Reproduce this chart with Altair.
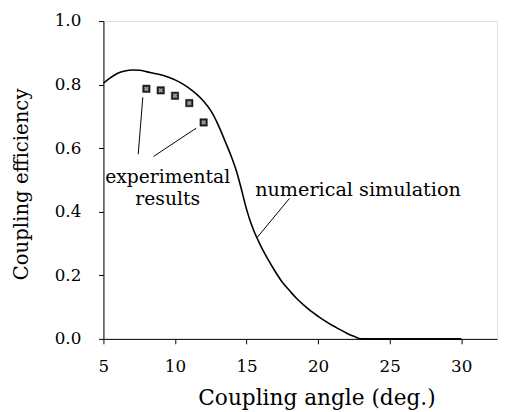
import altair as alt
import pandas as pd

# numerical simulation curve
sim_x = [5.0, 5.5, 6.0, 6.5, 7.0, 7.5, 8.0, 8.5, 9.0, 9.5, 10.0, 10.5, 11.0, 11.5,
         12.0, 12.5, 13.0, 13.5, 14.0, 14.3, 14.6, 14.9, 15.2, 15.5, 16.0, 16.5,
         17.0, 17.5, 18.0, 18.5, 19.0, 19.5, 20.0, 20.5, 21.0, 21.5, 22.0, 22.5,
         23.0, 30.0]
sim_y = [0.805, 0.822, 0.836, 0.843, 0.846, 0.845, 0.841, 0.836, 0.831, 0.824,
         0.815, 0.803, 0.788, 0.770, 0.748, 0.718, 0.675, 0.622, 0.566, 0.527,
         0.478, 0.424, 0.378, 0.341, 0.292, 0.250, 0.212, 0.178, 0.152, 0.127,
         0.106, 0.087, 0.071, 0.056, 0.042, 0.030, 0.018, 0.008, 0.0, 0.0]

# experimental results
exp_x = [8, 9, 10, 11, 12]
exp_y = [0.787, 0.782, 0.765, 0.742, 0.681]

# leader lines of the annotations
lead_x = [7.43, 8.50, 15.72]
lead_y = [0.581, 0.574, 0.318]
lead_x2 = [7.75, 11.48, 18.0]
lead_y2 = [0.760, 0.663, 0.442]

# annotation texts
note_text = ["experimental", "results", "numerical simulation"]
note_x = [9.49, 9.49, 15.6]
note_y = [0.492, 0.421, 0.449]
note_align = ["center", "center", "left"]

x_ticks = [5, 7.5, 10, 12.5, 15, 17.5, 20, 22.5, 25, 27.5, 30, 32.5]
y_ticks = [0.0, 0.1, 0.2, 0.3, 0.4, 0.5, 0.6, 0.7, 0.8, 0.9, 1.0]

sim = pd.DataFrame({"x": sim_x, "y": sim_y})
exp = pd.DataFrame({"x": exp_x, "y": exp_y})
leads = pd.DataFrame({"x": lead_x, "y": lead_y, "x2": lead_x2, "y2": lead_y2})
notes = pd.DataFrame({"t": note_text, "x": note_x, "y": note_y, "a": note_align})

FONT = "DejaVu Serif"

xscale = alt.Scale(domain=[5, 32.5], nice=False, zero=False)
yscale = alt.Scale(domain=[0, 1], nice=False)

xaxis = alt.Axis(
    title="Coupling angle (deg.)", values=x_ticks,
    labelExpr="datum.value % 5 === 0 ? format(datum.value, 'd') : ''",
    grid=False, domainColor="black", domainWidth=1, tickColor="black",
    tickSize=5, tickWidth=1,
    labelPadding=15, labelFont=FONT, labelFontSize=17, labelColor="black",
    titleFont=FONT, titleFontSize=22, titleFontWeight="normal", titleColor="black",
    titleX=216.5, titleY=67, titleBaseline="alphabetic", titleAlign="center",
    labelFlush=False,
)
yaxis = alt.Axis(
    title="Coupling efficiency", values=y_ticks,
    labelExpr="round(datum.value * 10) % 2 === 0 ? format(datum.value, '.1f') : ''",
    grid=False, domainColor="black", domainWidth=1, tickColor="black",
    tickSize=5, tickWidth=1,
    labelPadding=18, labelFont=FONT, labelFontSize=17, labelColor="black",
    titleFont=FONT, titleFontSize=20, titleFontWeight="normal", titleColor="black",
    titleX=-83, titleY=165.5, titleBaseline="middle", titleAlign="center", titleAngle=270,
    labelFlush=False,
)

line = alt.Chart(sim).mark_line(color="black", strokeWidth=1.6, interpolate="monotone").encode(
    x=alt.X("x:Q", scale=xscale, axis=xaxis),
    y=alt.Y("y:Q", scale=yscale, axis=yaxis),
)

pts = alt.Chart(exp).mark_square(size=56, color="#222222", stroke="black",
                                 strokeWidth=0.5, opacity=1).encode(
    x="x:Q", y="y:Q")
pts_in = alt.Chart(exp).mark_point(shape="cross", angle=45, size=24, filled=True,
                                   color="#9a9a9a", opacity=1).encode(
    x="x:Q", y="y:Q")

rules = alt.Chart(leads).mark_rule(color="black", strokeWidth=1).encode(
    x="x:Q", y="y:Q", x2="x2:Q", y2="y2:Q")

texts_c = alt.Chart(notes[notes.a == "center"]).mark_text(
    font=FONT, fontSize=19, color="black", align="center", baseline="alphabetic"
).encode(x="x:Q", y="y:Q", text="t:N")
texts_l = alt.Chart(notes[notes.a == "left"]).mark_text(
    font=FONT, fontSize=19.5, color="black", align="left", baseline="alphabetic"
).encode(x="x:Q", y="y:Q", text="t:N")

chart = alt.layer(line, rules, pts, pts_in, texts_c, texts_l).properties(
    width=400, height=323,
    autosize=alt.AutoSizeParams(type="none"),
    padding={"left": 97, "top": 10, "right": 2, "bottom": 70},
).configure_view(stroke=None).configure(background="white")

chart.save("out.html", embed_options={"renderer": "svg", "actions": False})
